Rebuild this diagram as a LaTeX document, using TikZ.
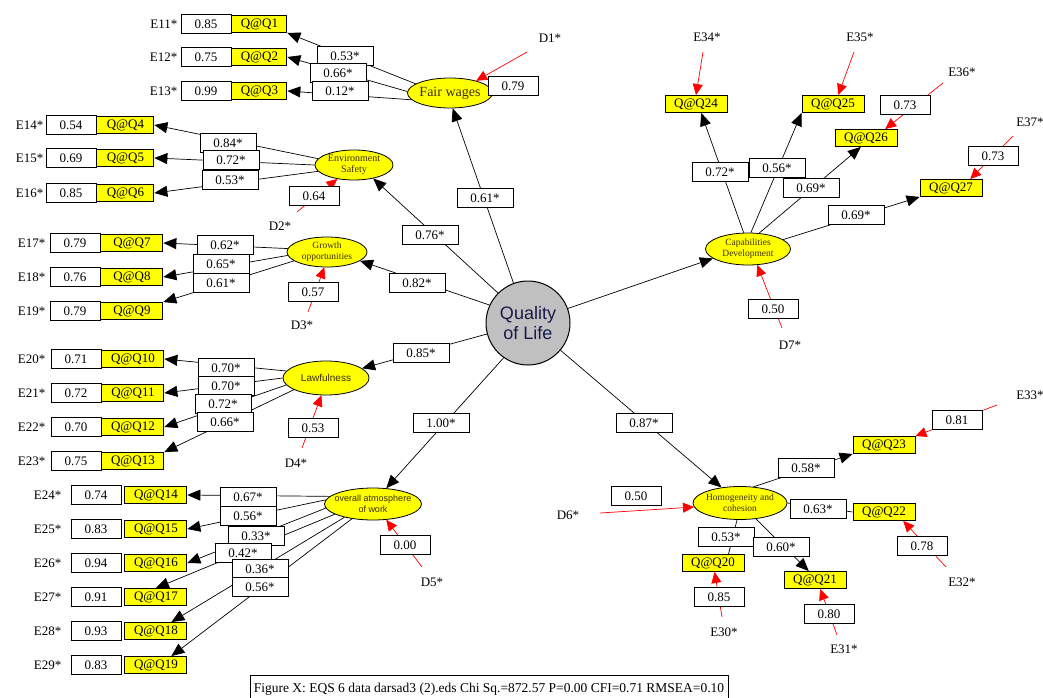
\documentclass[tikz,border=0pt]{standalone}
\usepackage{fontspec}
\setmainfont{Liberation Serif}
\setsansfont{Liberation Sans}
\usetikzlibrary{shapes,arrows.meta,positioning}
\definecolor{qyellow}{RGB}{255,255,0}
\definecolor{qolgray}{RGB}{192,192,192}
\definecolor{qolblue}{RGB}{25,25,75}
\definecolor{lattext}{RGB}{60,45,0}

\begin{document}
\begin{tikzpicture}[
    x=1pt, y=-1pt,
    latent/.style={ellipse, draw, fill=qyellow, line width=0.8pt, inner xsep=-6pt, inner ysep=-3pt, align=center, text=lattext},
    valbox/.style={rectangle, draw, fill=white, line width=0.9pt, minimum width=50pt, minimum height=19pt, inner sep=0pt, font=\fontsize{13}{13}\selectfont},
    coef/.style={valbox, minimum width=56pt},
    qbox/.style={rectangle, draw, fill=qyellow, line width=0.9pt, minimum width=62pt, minimum height=17pt, inner sep=0pt, font=\fontsize{13}{13}\selectfont},
    elabel/.style={inner sep=0pt, font=\fontsize{13}{13}\selectfont},
    load/.style={line width=0.7pt, -{Triangle[length=13pt,width=11pt]}},
    resid/.style={red, line width=0.7pt, -{Triangle[length=11pt,width=10pt]}}
]
\useasboundingbox (0,0) rectangle (1043,698);

% central factor
\node[circle, draw, fill=qolgray, line width=1pt, minimum size=84pt, inner sep=0pt, align=center, text=qolblue, font=\sffamily\fontsize{18}{20}\selectfont] (qol) at (528,323) {Quality\\of Life};

% first order factors
\node[latent, minimum width=85pt, minimum height=30pt, font=\fontsize{14}{14}\selectfont] (fw) at (450,93) {Fair wages};
\node[latent, minimum width=78pt, minimum height=30pt, font=\fontsize{10}{11}\selectfont] (es) at (354,165) {Environment\\Safety};
\node[latent, minimum width=80pt, minimum height=30pt, font=\fontsize{9.5}{11}\selectfont] (gr) at (327,252) {Growth\\opportunities};
\node[latent, minimum width=86pt, minimum height=34pt, font=\sffamily\fontsize{10}{11}\selectfont] (lw) at (326,378) {Lawfulness};
\node[latent, minimum width=97pt, minimum height=32pt, font=\sffamily\fontsize{9}{11}\selectfont] (oa) at (373,504) {overall atmosphere\\of work};
\node[latent, minimum width=85pt, minimum height=32pt, font=\fontsize{9.5}{11}\selectfont] (cd) at (748,249) {Capabilities\\Development};
\node[latent, minimum width=94pt, minimum height=33pt, font=\fontsize{9.5}{11}\selectfont] (ho) at (740,503) {Homogeneity and\\cohesion};

% indicators, left side
\foreach \e/\v/\q/\y in {11/0.85/1/24, 12/0.75/2/57, 13/0.99/3/91}{
    \node[valbox] (e\e) at (206,\y) {\v};
    \node[qbox, minimum width=55pt, right=0pt of e\e] (q\q) {Q@Q\q};
    \node[elabel, left=3pt of e\e] (l\e) {E\e*};
}
\foreach \e/\v/\q/\y in {14/0.54/4/125, 15/0.69/5/158, 16/0.85/6/193}{
    \node[valbox] (e\e) at (71,\y) {\v};
    \node[qbox, minimum width=57pt, right=0pt of e\e] (q\q) {Q@Q\q};
    \node[elabel, left=2pt of e\e] (l\e) {E\e*};
}
\foreach \e/\v/\q/\y in {17/0.79/7/243, 18/0.76/8/277, 19/0.79/9/311}{
    \node[valbox] (e\e) at (75,\y) {\v};
    \node[qbox, right=0pt of e\e] (q\q) {Q@Q\q};
    \node[elabel, left=4pt of e\e] (l\e) {E\e*};
}
\foreach \e/\v/\q/\y in {20/0.71/10/359, 21/0.72/11/393, 22/0.70/12/427, 23/0.75/13/461}{
    \node[valbox] (e\e) at (76,\y) {\v};
    \node[qbox, right=0pt of e\e] (q\q) {Q@Q\q};
    \node[elabel, left=5pt of e\e] (l\e) {E\e*};
}
\foreach \e/\v/\q/\y in {24/0.74/14/495, 25/0.83/15/529, 26/0.94/16/563, 27/0.91/17/597, 28/0.93/18/631, 29/0.83/19/665}{
    \node[valbox] (e\e) at (96,\y) {\v};
    \node[qbox, right=3pt of e\e] (q\q) {Q@Q\q};
    \node[elabel, left=9pt of e\e] (l\e) {E\e*};
}

% indicators, right side
\node[qbox] (q24) at (696,104) {Q@Q24};
\node[qbox] (q25) at (833,104) {Q@Q25};
\node[qbox] (q26) at (866,138) {Q@Q26};
\node[qbox] (q27) at (951,188) {Q@Q27};
\node[qbox] (q23) at (884,445) {Q@Q23};
\node[qbox] (q22) at (884,512) {Q@Q22};
\node[qbox] (q20) at (713,563) {Q@Q20};
\node[qbox] (q21) at (815,580) {Q@Q21};

% where the disturbances and errors come from
\coordinate (d1) at (527,52);
\coordinate (d2) at (297,212);
\coordinate (d3) at (308,312);
\coordinate (d4) at (302,448);
\coordinate (d5) at (422,567);
\coordinate (d6) at (600,513);
\coordinate (d7) at (782,328);
\coordinate (e34) at (703,52);
\coordinate (e35) at (854,52);
\coordinate (e36) at (943,83);
\coordinate (e37) at (1013,136);
\coordinate (e33) at (997,405);
\coordinate (e32) at (946,567);
\coordinate (e30) at (722,617);
\coordinate (e31) at (837,635);

% second order paths
\draw[load] (qol.110) -- (fw.280);
\draw[load] (qol.135) -- (es.-35);
\draw[load] (qol.155) -- (gr.-15);
\draw[load] (qol.195) -- (lw.15);
\draw[load] (qol.235) -- (oa.50);
\draw[load] (qol.20) -- (cd.195);
\draw[load] (qol.-40) -- (ho.140);

% loadings
\foreach \a/\t in {165/q1.south east, 178/q2.east, 190/q3.east}
    \draw[load] (fw.\a) -- (\t);
\foreach \a/\t in {170/q4.east, 180/q5.east, 190/q6.east}
    \draw[load] (es.\a) -- (\t);
\foreach \a/\t in {175/q7.east, 185/q8.east, 195/q9.north east}
    \draw[load] (gr.\a) -- (\t);
\foreach \a/\t in {170/q10.east, 180/q11.east, 190/q12.east, 200/q13.north east}
    \draw[load] (lw.\a) -- (\t);
\foreach \a/\t in {170/q14.east, 175/q15.east, 185/q16.east, 195/q17.north, 205/q18.30, 215/q19.30}
    \draw[load] (oa.\a) -- (\t);
\foreach \a/\t in {105/q24.-60, 80/q25.south west, 55/q26.-120, 15/q27.south west}
    \draw[load] (cd.\a) -- (\t);
\foreach \a/\t in {50/q23.south west, -45/q21.125}
    \draw[load] (ho.\a) -- (\t);
% these two run under their values, no tip shows
\draw[line width=0.7pt] (ho.east) -- (q22.west);
\draw[line width=0.7pt] (ho.-100) -- (q20.30);

% disturbances and errors
\draw[resid] (d1) -- (fw.25);
\draw[resid] (d2) -- (es.220);
\draw[resid] (d3) -- (gr.260);
\draw[resid] (d4) -- (lw.255);
\draw[resid] (d5) -- (oa.310);
\draw[resid] (d6) -- (ho.185);
\draw[resid] (d7) -- (cd.300);
\draw[resid] (e34) -- (q24.north);
\draw[resid] (e35) -- (q25.60);
\draw[resid] (e36) -- (q26.25);
\draw[resid] (e37) -- (q27.25);
\draw[resid] (e33) -- (q23.north east);
\draw[resid] (e32) -- (q22.-25);
\draw[resid] (e30) -- (q20.-80);
\draw[resid] (e31) -- (q21.-60);

% path values
\foreach \n/\x/\y/\v in {1/345/56/0.53, 2/338/73/0.66, 3/340/91/0.12,
    4/228/143/0.84, 5/231/160/0.72, 6/230/180/0.53,
    7/225/245/0.62, 8/221/264/0.65, 9/221/283/0.61,
    10/226/368/0.70, 11/226/386/0.70, 12/223/404/0.72, 13/225/422/0.66,
    14/248/497/0.67, 15/248/516/0.56, 16/256/536/0.33, 17/243/553/0.42, 18/260/569/0.36, 19/260/587/0.56,
    24/720/172/0.72, 25/777/168/0.56, 26/811/188/0.69, 27/856/215/0.69,
    23/806/468/0.58, 22/818/509/0.63, 20/726/537/0.53, 21/781/547/0.60}
    \node[coef] (w\n) at (\x,\y) {\v*};
\foreach \n/\x/\y/\v in {fw/485/198/0.61, es/430/235/0.76, gr/417/283/0.82, lw/421/353/0.85, oa/441/423/1.00, ho/644/423/0.87}
    \node[coef] (b\n) at (\x,\y) {\v*};

% residual values
\foreach \n/\x/\y/\v in {d1/513/86/0.79, d2/314/196/0.64, d3/313/292/0.57, d4/313/428/0.53, d5/405/545/0.00, d6/636/496/0.50, d7/773/309/0.50,
    e36/905/105/0.73, e37/993/156/0.73, e33/957/420/0.81, e32/922/546/0.78, e30/719/597/0.85, e31/829/614/0.80}
    \node[valbox] (v\n) at (\x,\y) {\v};
\foreach \n/\x/\y in {D1/550/38, D2/280/226, D3/302/325, D4/296/463, D5/432/582, D6/568/515, D7/790/345,
    E34/707/37, E35/860/37, E36/962/72, E37/1030/122, E33/1030/395, E32/962/582, E30/724/632, E31/844/649}
    \node[elabel] (t\n) at (\x,\y) {\n*};

% fit statistics
\node[draw, line width=0.9pt, fill=white, minimum width=478pt, minimum height=28pt, inner sep=0pt, anchor=north, font=\fontsize{13.5}{14}\selectfont] (cap) at (489,675) {Figure X: EQS 6 data darsad3 (2).eds Chi Sq.=872.57 P=0.00 CFI=0.71 RMSEA=0.10};
\end{tikzpicture}
\end{document}
